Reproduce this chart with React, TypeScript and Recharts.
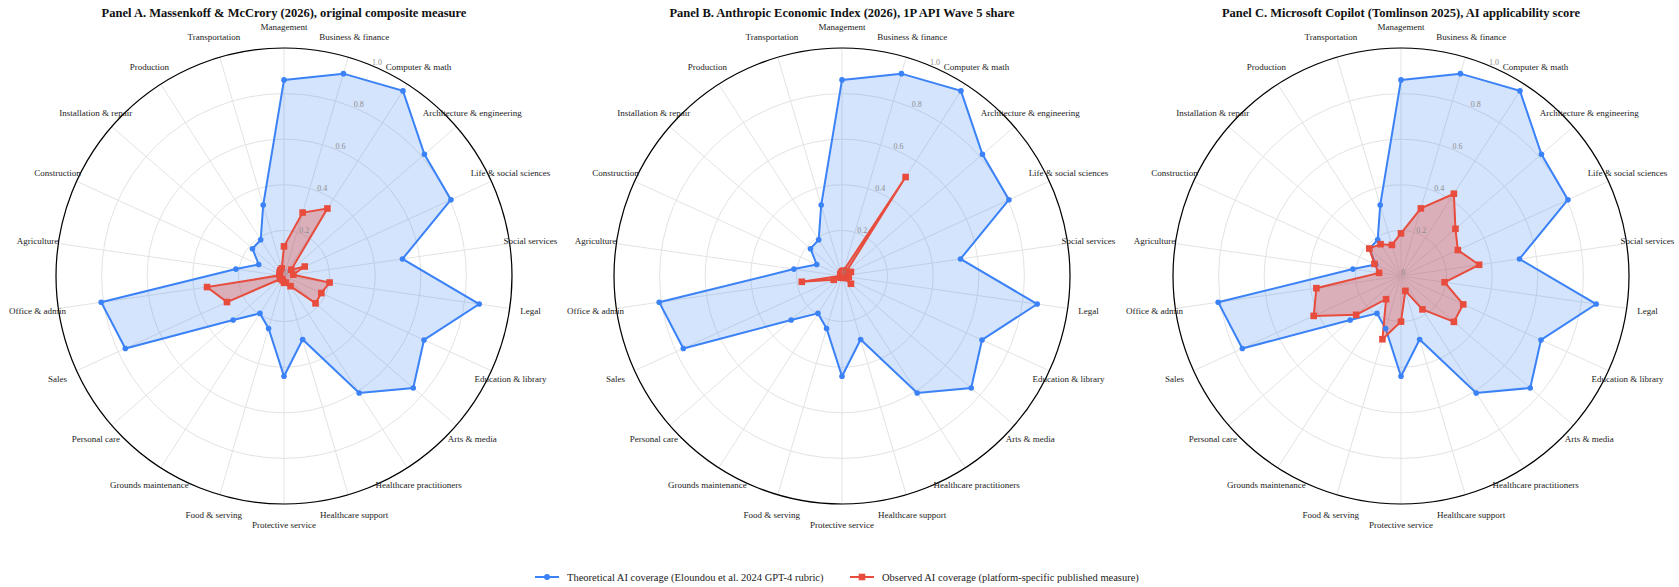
import React from 'react';
import { RadarChart, Radar, PolarGrid, PolarAngleAxis, PolarRadiusAxis } from 'recharts';

const CATEGORIES = [
  'Management', 'Business & finance', 'Computer & math', 'Architecture & engineering',
  'Life & social sciences', 'Social services', 'Legal', 'Education & library', 'Arts & media',
  'Healthcare practitioners', 'Healthcare support', 'Protective service', 'Food & serving',
  'Grounds maintenance', 'Personal care', 'Sales', 'Office & admin', 'Agriculture',
  'Construction', 'Installation & repair', 'Production', 'Transportation',
];

// Eloundou et al. rubric, same in all three panels
const THEORETICAL = [0.86, 0.925, 0.965, 0.815, 0.805, 0.525, 0.865, 0.675, 0.75, 0.61, 0.29, 0.44, 0.24, 0.195, 0.295, 0.765, 0.81, 0.213, 0.122, 0.183, 0.189, 0.324];

const OBSERVED_A = [0.13, 0.29, 0.352, 0.042, 0.1, 0.041, 0.202, 0.18, 0.183, 0.053, 0.03, 0.03, 0.02, 0.015, 0.02, 0.275, 0.341, 0.02, 0.02, 0.025, 0.03, 0.035];
const OBSERVED_B = [0.02, 0.025, 0.516, 0.02, 0.043, 0.02, 0.03, 0.02, 0.052, 0.01, 0.005, 0.005, 0.005, 0.005, 0.01, 0.04, 0.178, 0.005, 0.005, 0.01, 0.01, 0.015];
const OBSERVED_C = [0.187, 0.309, 0.429, 0.316, 0.274, 0.346, 0.193, 0.3, 0.307, 0.174, 0.068, 0.2, 0.289, 0.121, 0.26, 0.421, 0.375, 0.097, 0.128, 0.184, 0.166, 0.142];

const RADIUS_TICKS = [0, 0.2, 0.4, 0.6, 0.8, 1];

const PANEL_TITLES = [
  'Panel A. Massenkoff & McCrory (2026), original composite measure',
  'Panel B. Anthropic Economic Index (2026), 1P API Wave 5 share',
  'Panel C. Microsoft Copilot (Tomlinson 2025), AI applicability score',
];

const LEGEND_LABELS = [
  'Theoretical AI coverage (Eloundou et al. 2024 GPT-4 rubric)',
  'Observed AI coverage (platform-specific published measure)',
];

const BLUE = '#3b82f6';
const RED = '#e74c3c';
const FONT = '"Liberation Serif", "Times New Roman", serif';

const AngleTick = (props: any) => {
  const { x, y, payload } = props;
  return (
    <text x={x} y={y} textAnchor="middle" dominantBaseline="central" fontSize={9} fill="#222" fontFamily={FONT}>
      {payload.value}
    </text>
  );
};

const RadiusTick = (props: any) => {
  const { x, y, payload } = props;
  const v = Number(payload.value);
  return (
    <text x={x + 2} y={y - 4} textAnchor="middle" dominantBaseline="central" fontSize={8} fill="#8c8c8c" fontFamily={FONT}>
      {v === 0 ? '0' : v.toFixed(1)}
    </text>
  );
};

const BlueDot = (props: any) => {
  const { cx, cy } = props;
  return <circle cx={cx} cy={cy} r={2.8} fill={BLUE} />;
};

const RedSquare = (props: any) => {
  const { cx, cy } = props;
  return <rect x={cx - 3.3} y={cy - 3.3} width={6.6} height={6.6} fill={RED} />;
};

const Panel = ({ title, observed, left, cx }: { title: string; observed: number[]; left: number; cx: number }) => {
  const data = CATEGORIES.map((name, i) => ({ name, theoretical: THEORETICAL[i], observed: observed[i] }));
  return (
    <div style={{ position: 'absolute', left, top: 0, width: 560, height: 560 }}>
      <div
        style={{
          position: 'absolute', left: cx - 280, top: 6, width: 560, textAlign: 'center',
          fontFamily: FONT, fontWeight: 'bold', fontSize: 12.5, color: '#111',
        }}
      >
        {title}
      </div>
      <RadarChart width={560} height={560} data={data} cx={cx} cy={276} outerRadius={228} margin={{ top: 0, right: 0, bottom: 0, left: 0 }}>
        <PolarGrid gridType="circle" stroke="#e3e3e3" strokeWidth={1} />
        <PolarAngleAxis
          dataKey="name"
          axisLineType="circle"
          stroke="#000"
          axisLine={{ stroke: '#000', strokeWidth: 1.2 }}
          tickLine={false}
          tickSize={21}
          tick={<AngleTick />}
        />
        <Radar
          name={LEGEND_LABELS[0]}
          dataKey="theoretical"
          stroke={BLUE}
          strokeWidth={2}
          fill={BLUE}
          fillOpacity={0.22}
          dot={BlueDot}
          isAnimationActive={false}
        />
        <Radar
          name={LEGEND_LABELS[1]}
          dataKey="observed"
          stroke={RED}
          strokeWidth={2}
          fill={RED}
          fillOpacity={0.35}
          dot={RedSquare}
          isAnimationActive={false}
        />
        <PolarRadiusAxis
          type="number"
          angle={66.5}
          domain={[0, 1]}
          ticks={RADIUS_TICKS as any}
          tickCount={6}
          axisLine={false}
          tickLine={false}
          tick={<RadiusTick />}
          zIndex={2000}
        />
      </RadarChart>
    </div>
  );
};

const LegendItem = ({ left, color, square, label }: { left: number; color: string; square: boolean; label: string }) => (
  <div style={{ position: 'absolute', left, top: 569, display: 'flex', alignItems: 'center', height: 16 }}>
    <svg width={24} height={12} style={{ marginRight: 8 }}>
      <line x1={0} y1={6} x2={24} y2={6} stroke={color} strokeWidth={2} />
      {square ? <rect x={8.7} y={2.7} width={6.6} height={6.6} fill={color} /> : <circle cx={12} cy={6} r={3} fill={color} />}
    </svg>
    <span style={{ fontFamily: FONT, fontSize: 10.5, color: '#222', whiteSpace: 'nowrap' }}>{label}</span>
  </div>
);

export default function App() {
  return (
    <div style={{ position: 'absolute', left: 0, top: 0, width: 1679, height: 587, background: '#fff', overflow: 'hidden' }}>
      <Panel title={PANEL_TITLES[0]} observed={OBSERVED_A} left={0} cx={284} />
      <Panel title={PANEL_TITLES[1]} observed={OBSERVED_B} left={560} cx={282} />
      <Panel title={PANEL_TITLES[2]} observed={OBSERVED_C} left={1120} cx={281} />
      <LegendItem left={535} color={BLUE} square={false} label={LEGEND_LABELS[0]} />
      <LegendItem left={850} color={RED} square={true} label={LEGEND_LABELS[1]} />
    </div>
  );
}
